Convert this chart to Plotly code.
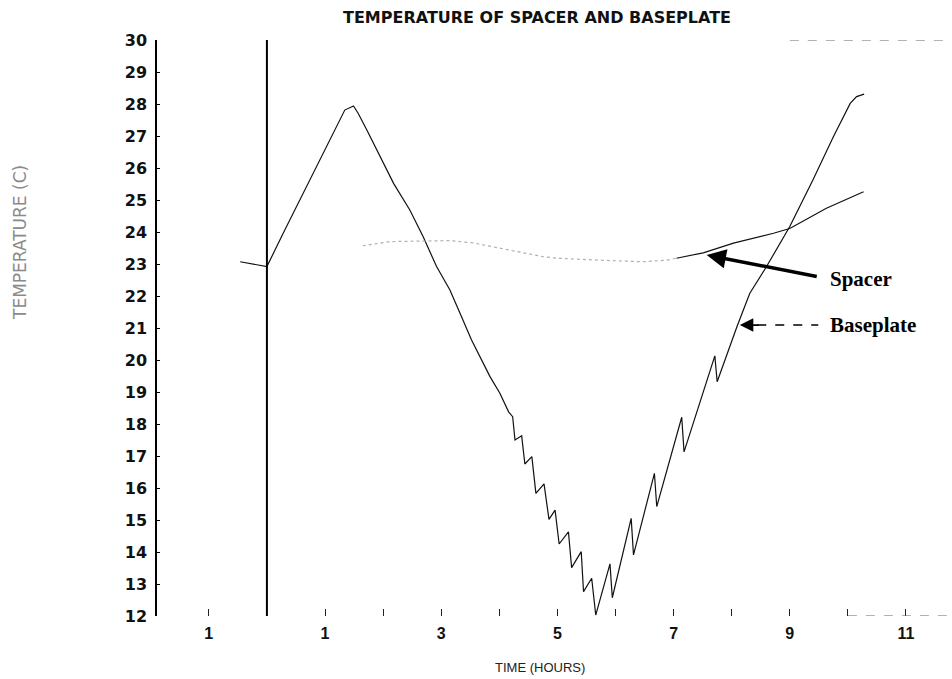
import plotly.graph_objects as go

# ---- data ----
baseplate_time = [-0.46, 0.0, 0.28, 0.57, 0.86, 1.09, 1.26, 1.34, 1.49, 1.57, 1.72, 1.95, 2.18,
                  2.46, 2.69, 2.92, 3.15, 3.35, 3.52, 3.84, 4.01, 4.16, 4.23, 4.27, 4.385, 4.44,
                  4.56, 4.63, 4.77, 4.855, 4.96, 5.03, 5.19, 5.245, 5.41, 5.45, 5.59, 5.66, 5.905,
                  5.945, 6.27, 6.31, 6.67, 6.71, 7.14, 7.18, 7.71, 7.75, 8.09, 8.31, 8.6, 9.0,
                  9.4, 9.75, 10.04, 10.15, 10.28]
baseplate_temp = [23.07, 22.92, 23.96, 25.0, 26.04, 26.88, 27.5, 27.81, 27.94, 27.71, 27.19, 26.35,
                  25.52, 24.69, 23.85, 22.92, 22.19, 21.35, 20.63, 19.48, 18.96, 18.38, 18.23, 17.5,
                  17.63, 16.75, 16.98, 15.83, 16.13, 15.02, 15.31, 14.25, 14.63, 13.51, 14.01, 12.76,
                  13.18, 12.03, 13.63, 12.57, 15.05, 13.91, 16.46, 15.42, 18.21, 17.13, 20.13, 19.32,
                  21.04, 22.08, 22.92, 24.17, 25.63, 26.98, 28.02, 28.23, 28.31]

spacer_time = [1.65, 2.12, 3.15, 3.55, 4.75, 4.99, 5.73, 6.47, 6.88, 7.05, 7.51, 8.03, 8.72,
               9.0, 9.63, 10.27]
spacer_temp = [23.57, 23.70, 23.73, 23.66, 23.23, 23.18, 23.12, 23.07, 23.12, 23.18, 23.35,
               23.65, 23.96, 24.11, 24.74, 25.26]
spacer_faint_end = 9  # index where the scanned line becomes solid

x_tick_vals = list(range(-1, 12))
x_tick_text = ["1", "", "1", "", "3", "", "5", "", "7", "", "9", "", "11"]
y_tick_vals = list(range(12, 31))
y_tick_text = [str(v) for v in y_tick_vals]

title_text = "TEMPERATURE OF SPACER AND BASEPLATE"
x_title = "TIME (HOURS)"
y_title = "TEMPERATURE (C)"

# annotation anchor points (data units)
spacer_label = (9.66, 22.53)
spacer_arrow_tip = (7.57, 23.28)
spacer_arrow_tail = (9.49, 22.60)
base_label = (9.66, 21.09)
base_arrow_tip = (8.14, 21.09)
base_arrow_tail = (9.49, 21.09)

X_RANGE = [-1.892, 11.775]
Y_RANGE = [12, 30]

fig = go.Figure()

fig.add_trace(go.Scatter(x=baseplate_time, y=baseplate_temp, mode="lines",
                         line=dict(color="#111111", width=1.2), showlegend=False))
fig.add_trace(go.Scatter(x=spacer_time[:spacer_faint_end + 1], y=spacer_temp[:spacer_faint_end + 1],
                         mode="lines", line=dict(color="#b0b0b0", width=1.2, dash="dot"),
                         showlegend=False))
fig.add_trace(go.Scatter(x=spacer_time[spacer_faint_end:], y=spacer_temp[spacer_faint_end:],
                         mode="lines", line=dict(color="#111111", width=1.2), showlegend=False))

# vertical reference line at time 0
fig.add_vline(x=0, line=dict(color="black", width=2))

# faint partial frame pieces seen in the scan
fig.add_shape(type="line", xref="x", yref="y", x0=9.0, x1=X_RANGE[1], y0=30, y1=30,
              line=dict(color="#666666", width=1.2, dash="dash"))
fig.add_shape(type="line", xref="x", yref="y", x0=10.0, x1=X_RANGE[1], y0=12, y1=12,
              line=dict(color="#666666", width=1.2, dash="dash"))

# Spacer arrow (thick)
fig.add_annotation(x=spacer_arrow_tip[0], y=spacer_arrow_tip[1], ax=spacer_arrow_tail[0],
                   ay=spacer_arrow_tail[1], axref="x", ayref="y", xref="x", yref="y",
                   text="", showarrow=True, arrowhead=2, arrowsize=1.1, arrowwidth=3.5,
                   arrowcolor="black")
# Baseplate arrow: dashed shaft + solid head
fig.add_shape(type="line", xref="x", yref="y", x0=base_arrow_tip[0] + 0.3, x1=base_arrow_tail[0],
              y0=base_arrow_tail[1], y1=base_arrow_tail[1],
              line=dict(color="black", width=1.5, dash="dash"))
fig.add_annotation(x=base_arrow_tip[0], y=base_arrow_tip[1], ax=base_arrow_tip[0] + 0.35,
                   ay=base_arrow_tip[1], axref="x", ayref="y", xref="x", yref="y",
                   text="", showarrow=True, arrowhead=2, arrowsize=1.5, arrowwidth=1.8,
                   arrowcolor="black")

label_font = dict(family="Liberation Serif, Times New Roman, serif", size=21, color="black",
                  weight="bold")
fig.add_annotation(x=spacer_label[0], y=spacer_label[1], text="Spacer", showarrow=False,
                   xanchor="left", yanchor="middle", font=label_font)
fig.add_annotation(x=base_label[0], y=base_label[1], text="Baseplate", showarrow=False,
                   xanchor="left", yanchor="middle", font=label_font)

# axis titles as annotations
fig.add_annotation(xref="paper", yref="paper", x=(540 - 157) / 794, y=-(667 - 616) / 576,
                   text=x_title, showarrow=False, xanchor="center", yanchor="middle",
                   font=dict(family="Liberation Sans, Arial", size=13, color="#222222"))
fig.add_annotation(xref="paper", yref="paper", x=(20 - 157) / 794, y=1 - (243 - 40) / 576,
                   text=y_title, showarrow=False, textangle=-90, xanchor="center",
                   yanchor="middle",
                   font=dict(family="DejaVu Sans, Arial", size=17, color="#8a8a8a"))

fig.update_layout(
    width=952, height=679,
    margin=dict(l=157, r=1, t=40, b=63),
    paper_bgcolor="white", plot_bgcolor="white",
    title=dict(text=title_text, x=537 / 952, xref="container", xanchor="center",
               y=1 - 17 / 679, yref="container", yanchor="middle",
               font=dict(family="DejaVu Sans, Arial", size=16, color="#111111", weight="bold")),
    xaxis=dict(range=X_RANGE, tickmode="array", tickvals=x_tick_vals, ticktext=x_tick_text,
               showgrid=False, zeroline=False, showline=False, ticks="inside", ticklen=7,
               tickwidth=1.2, tickcolor="#222222", ticklabelstandoff=6,
               tickfont=dict(family="Liberation Sans, Arial", size=16, color="#111111",
                             weight="bold")),
    yaxis=dict(range=Y_RANGE, tickmode="array", tickvals=y_tick_vals, ticktext=y_tick_text,
               showgrid=False, zeroline=False, showline=True, linecolor="black", linewidth=1.5,
               ticks="inside", ticklen=3, tickcolor="black", ticklabelstandoff=5,
               tickfont=dict(family="DejaVu Sans, Arial", size=16, color="#111111",
                             weight="bold")),
)

fig.write_html("out.html")
